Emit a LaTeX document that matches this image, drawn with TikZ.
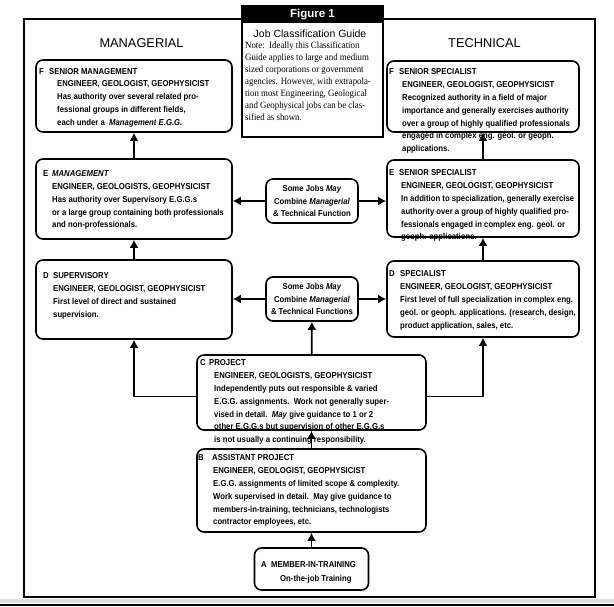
\documentclass[tikz,border=0pt]{standalone}
\usepackage{fontspec}
\setmainfont{Liberation Serif}
\newfontfamily\eggfont{Liberation Sans}[FakeStretch=0.9]
\newfontfamily\headfont{Liberation Sans}
\newfontfamily\notefont{Liberation Serif}[FakeStretch=0.92]
\usetikzlibrary{arrows.meta}

\tikzset{
  eggbox/.style={draw, rounded corners=7pt, line width=1.6pt, inner sep=0pt},
  eggtext/.style={anchor=north west, inner sep=0pt, align=left,
    font=\eggfont\bfseries\fontsize{8.6}{12.7}\selectfont},
  combine/.style={eggbox, align=center, minimum width=92pt, minimum height=44pt,
    font=\eggfont\bfseries\fontsize{8.6}{12.5}\selectfont},
  upline/.style={line width=1.8pt, -{Latex[length=8pt,width=9pt]}},
}
\newcommand{\egglevel}[2]{\makebox[#2][l]{#1}}

\begin{document}
\begin{tikzpicture}[x=1pt,y=-1pt]
  \useasboundingbox (0,0) rectangle (614,606);

  % frame and page edge
  \draw[line width=1.6pt] (24,19) rectangle (595,597);
  \fill[gray!25] (0,599) rectangle (614,603);
  \fill[black] (0,603.5) rectangle (614,606);

  % figure title box
  \node[draw, fill=white, line width=1.5pt, minimum width=141pt, minimum height=131pt,
        inner sep=0pt] (fig) at (312.5,71.5) {};
  \fill[black] (fig.north west) rectangle (383,23);
  \node[text=white, font=\headfont\bfseries\fontsize{11.5}{13}\selectfont] (fig title)
        at (312.5,14.5) {Figure 1};
  \node[font=\headfont\fontsize{10.5}{12}\selectfont] (fig head) at (310,34)
        {Job Classification Guide};
  \node[anchor=north west, inner sep=0pt, align=left,
        font=\notefont\fontsize{9.6}{12}\selectfont] (fig note) at (245,41.5)
        {Note:\ \ Ideally this Classification\\
         Guide applies to large and medium\\
         sized corporations or government\\
         agencies. However, with extrapola-\\
         tion most Engineering, Geological\\
         and Geophysical jobs can be clas-\\
         sified as shown.};

  \node[font=\headfont\fontsize{12.8}{14}\selectfont] (managerial) at (141.5,43) {MANAGERIAL};
  \node[font=\headfont\fontsize{12.8}{14}\selectfont] (technical) at (484.5,43) {TECHNICAL};

  % boxes
  \node[eggbox, minimum width=196pt, minimum height=72pt] (fm) at (134,96) {};
  \node[eggbox, minimum width=196pt, minimum height=80pt] (em) at (134,199) {};
  \node[eggbox, minimum width=196pt, minimum height=79pt] (dm) at (134,299.5) {};
  \node[eggbox, minimum width=192pt, minimum height=71pt] (ft) at (483,96.5) {};
  \node[eggbox, minimum width=192pt, minimum height=77pt] (et) at (483,198.5) {};
  \node[eggbox, minimum width=192pt, minimum height=76pt] (dt) at (483,299) {};
  \node[eggbox, minimum width=229pt, minimum height=75pt] (c) at (311.5,392.5) {};
  \node[eggbox, minimum width=229pt, minimum height=83pt] (b) at (311.5,490.5) {};
  \node[eggbox, minimum width=114pt, minimum height=42pt] (a) at (311.5,569) {};

  \node[combine] (cb1) at (312,201)
        {Some Jobs \textit{May}\\Combine \textit{Managerial}\\\& Technical Function};
  \node[combine] (cb2) at (312,299)
        {Some Jobs \textit{May}\\Combine \textit{Managerial}\\\& Technical Functions};

  % box texts
  \node[eggtext] (fm title) at (39,68.7) {\egglevel{F}{10pt}SENIOR MANAGEMENT};
  \node[eggtext] (fm body) at (57,80.7)
        {ENGINEER, GEOLOGIST, GEOPHYSICIST\\
         Has authority over several related pro-\\
         fessional groups in different fields,\\
         each under a\ \ \textit{Management E.G.G.}};

  \node[eggtext] (em title) at (43,170.7) {\egglevel{E}{9pt}\textit{MANAGEMENT}};
  \node[eggtext] (em body) at (52,183.4)
        {ENGINEER, GEOLOGISTS, GEOPHYSICIST\\
         Has authority over Supervisory E.G.G.s\\
         or a large group containing both professionals\\
         and non-professionals.};

  \node[eggtext] (dm title) at (43,272.7) {\egglevel{D}{10pt}SUPERVISORY};
  \node[eggtext] (dm body) at (53,285.7)
        {ENGINEER, GEOLOGIST, GEOPHYSICIST\\
         First level of direct and sustained\\
         supervision.};

  \node[eggtext] (ft title) at (389,68.7) {\egglevel{F}{10pt}SENIOR SPECIALIST};
  \node[eggtext] (ft body) at (402,81.7)
        {ENGINEER, GEOLOGIST, GEOPHYSICIST\\
         Recognized authority in a field of major\\
         importance and generally exercises authority\\
         over a group of highly qualified professionals\\
         engaged in complex eng. geol. or geoph.\\
         applications.};

  \node[eggtext] (et title) at (389,169.7) {\egglevel{E}{10pt}SENIOR SPECIALIST};
  \node[eggtext] (et body) at (401,182.7)
        {ENGINEER, GEOLOGIST, GEOPHYSICIST\\
         In addition to specialization, generally exercise\\
         authority over a group of highly qualified pro-\\
         fessionals engaged in complex eng. geol. or\\
         geoph. applications.};

  \node[eggtext] (dt title) at (389,270.7) {\egglevel{D}{11pt}SPECIALIST};
  \node[eggtext] (dt body) at (400,283.7)
        {ENGINEER, GEOLOGIST, GEOPHYSICIST\\
         First level of full specialization in complex eng.\\
         geol. or geoph. applications. (research, design,\\
         product application, sales, etc.};

  \node[eggtext] (c title) at (200,359.7) {\egglevel{C}{9pt}PROJECT};
  \node[eggtext] (c body) at (214,372.7)
        {ENGINEER, GEOLOGISTS, GEOPHYSICIST\\
         Independently puts out responsible \& varied\\
         E.G.G. assignments.\ \ Work not generally super-\\
         vised in detail.\ \ \textit{May} give guidance to 1 or 2\\
         other E.G.G.s but supervision of other E.G.G.s\\
         is not usually a continuing responsibility.};

  \node[eggtext] (b title) at (198,454.7) {\egglevel{B}{14pt}ASSISTANT PROJECT};
  \node[eggtext] (b body) at (213,467.7)
        {ENGINEER, GEOLOGIST, GEOPHYSICIST\\
         E.G.G. assignments of limited scope \& complexity.\\
         Work supervised in detail.\ \ May give guidance to\\
         members-in-training, technicians, technologists\\
         contractor employees, etc.};

  \node[eggtext] (a title) at (261,561.7) {\egglevel{A}{10pt}MEMBER-IN-TRAINING};
  \node[eggtext] (a body) at (280,574.7) {On-the-job Training};

  % connectors
  \draw[upline] (em) -- (fm);
  \draw[upline] (dm) -- (em);
  \draw[upline] ([yshift=-4pt]c.west) -| (dm);
  \draw[upline] ([yshift=-4pt]c.east) -| (dt);
  \draw[upline] (dt) -- (et);
  \draw[upline] (et) -- (ft);
  \draw[upline] (c) -- (cb2);
  \draw[upline] (cb2.west) -- (cb2.west -| dm.east);
  \draw[upline] (cb2.east) -- (cb2.east -| dt.west);
  \draw[upline] (cb1.west) -- (cb1.west -| em.east);
  \draw[upline] (cb1.east) -- (cb1.east -| et.west);
  \draw[upline] (b) -- (c);
  \draw[upline] (a) -- (b);
\end{tikzpicture}
\end{document}
